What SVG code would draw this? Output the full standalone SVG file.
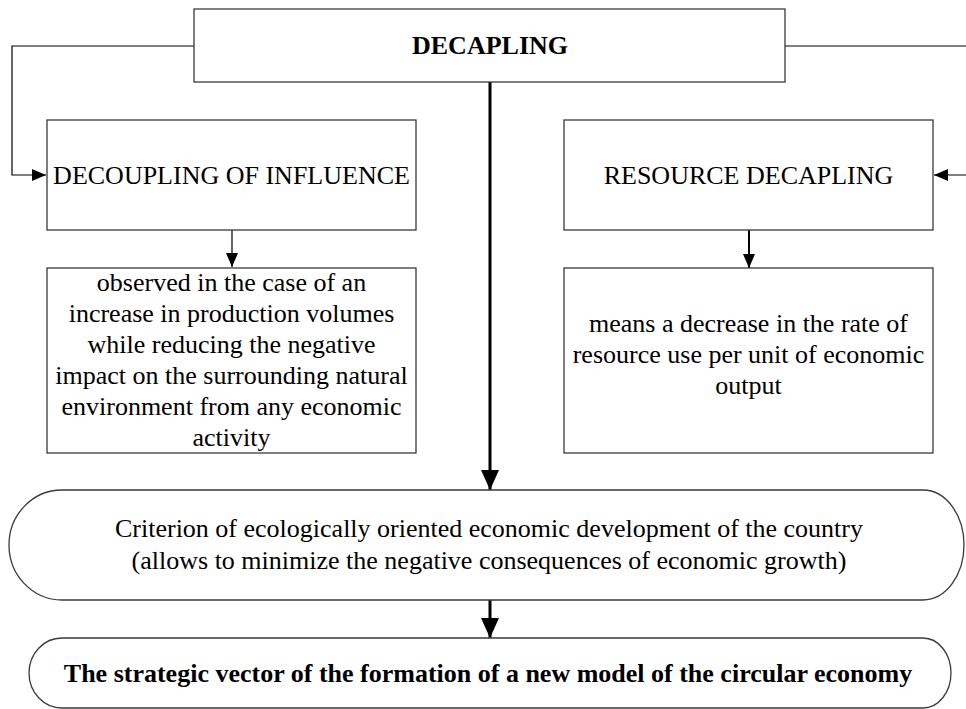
<svg xmlns="http://www.w3.org/2000/svg" width="966" height="709" viewBox="0 0 966 709">
  <style>
    .box { fill: #ffffff; stroke: #3a3a3a; stroke-width: 1.3; }
    .t { font-family: "Liberation Serif", "Times New Roman", serif; font-size: 26px; fill: #000; text-anchor: middle; }
    .b { font-weight: bold; }
    .line { fill: none; stroke: #000; stroke-width: 1.2; }
    .thick { fill: none; stroke: #000; stroke-width: 3; }
    .med { fill: none; stroke: #000; stroke-width: 2; }
  </style>
  <defs>
    <marker id="arrS" markerUnits="userSpaceOnUse" markerWidth="14" markerHeight="12" refX="14" refY="6" orient="auto">
      <path d="M0,0 L14,6 L0,12 Z" fill="#000"/>
    </marker>
    <marker id="arrL" markerUnits="userSpaceOnUse" markerWidth="20" markerHeight="18" refX="20" refY="9" orient="auto">
      <path d="M0,0 L20,9 L0,18 Z" fill="#000"/>
    </marker>
  </defs>

  <g id="connectors">
    <path class="line" d="M194,46 H12 V175 H46" marker-end="url(#arrS)"/>
    <path class="line" d="M785,46 H970 V175 H934" marker-end="url(#arrS)"/>
    <path class="line" d="M232,230 V267" marker-end="url(#arrS)"/>
    <path class="med" d="M749,230 V268" marker-end="url(#arrS)"/>
    <path class="thick" d="M490,82 V490" marker-end="url(#arrL)"/>
    <path class="thick" d="M490,600 V638" marker-end="url(#arrL)"/>
  </g>

  <g id="node-decapling">
    <rect class="box" x="194" y="9" width="591" height="73"/>
    <text class="t b" x="490" y="54">DECAPLING</text>
  </g>

  <g id="node-decoupling-influence">
    <rect class="box" x="47" y="120" width="369" height="110"/>
    <text class="t" x="231.5" y="184">DECOUPLING OF INFLUENCE</text>
  </g>

  <g id="node-resource-decapling">
    <rect class="box" x="564" y="120" width="369" height="110"/>
    <text class="t" x="748.5" y="184">RESOURCE DECAPLING</text>
  </g>

  <g id="node-influence-desc">
    <rect class="box" x="47" y="268" width="369" height="185"/>
    <text class="t" x="231.5" y="291">observed in the case of an</text>
    <text class="t" x="231.5" y="322">increase in production volumes</text>
    <text class="t" x="231.5" y="353">while reducing the negative</text>
    <text class="t" x="231.5" y="384">impact on the surrounding natural</text>
    <text class="t" x="231.5" y="415">environment from any economic</text>
    <text class="t" x="231.5" y="446">activity</text>
  </g>

  <g id="node-resource-desc">
    <rect class="box" x="564" y="268" width="369" height="185"/>
    <text class="t" x="748.5" y="332">means a decrease in the rate of</text>
    <text class="t" x="748.5" y="363">resource use per unit of economic</text>
    <text class="t" x="748.5" y="394">output</text>
  </g>

  <g id="node-criterion">
    <path class="box" d="M62,490 H923 A41,55 0 0 1 923,600 H62 A53,55 0 0 1 62,490 Z"/>
    <text class="t" x="489" y="537">Criterion of ecologically oriented economic development of the country</text>
    <text class="t" x="489" y="569">(allows to minimize the negative consequences of economic growth)</text>
  </g>

  <g id="node-strategic-vector">
    <path class="box" d="M62,638 H923 A28,35 0 0 1 923,708 H62 A33,35 0 0 1 62,638 Z"/>
    <text class="t b" x="488" y="682">The strategic vector of the formation of a new model of the circular economy</text>
  </g>
</svg>
